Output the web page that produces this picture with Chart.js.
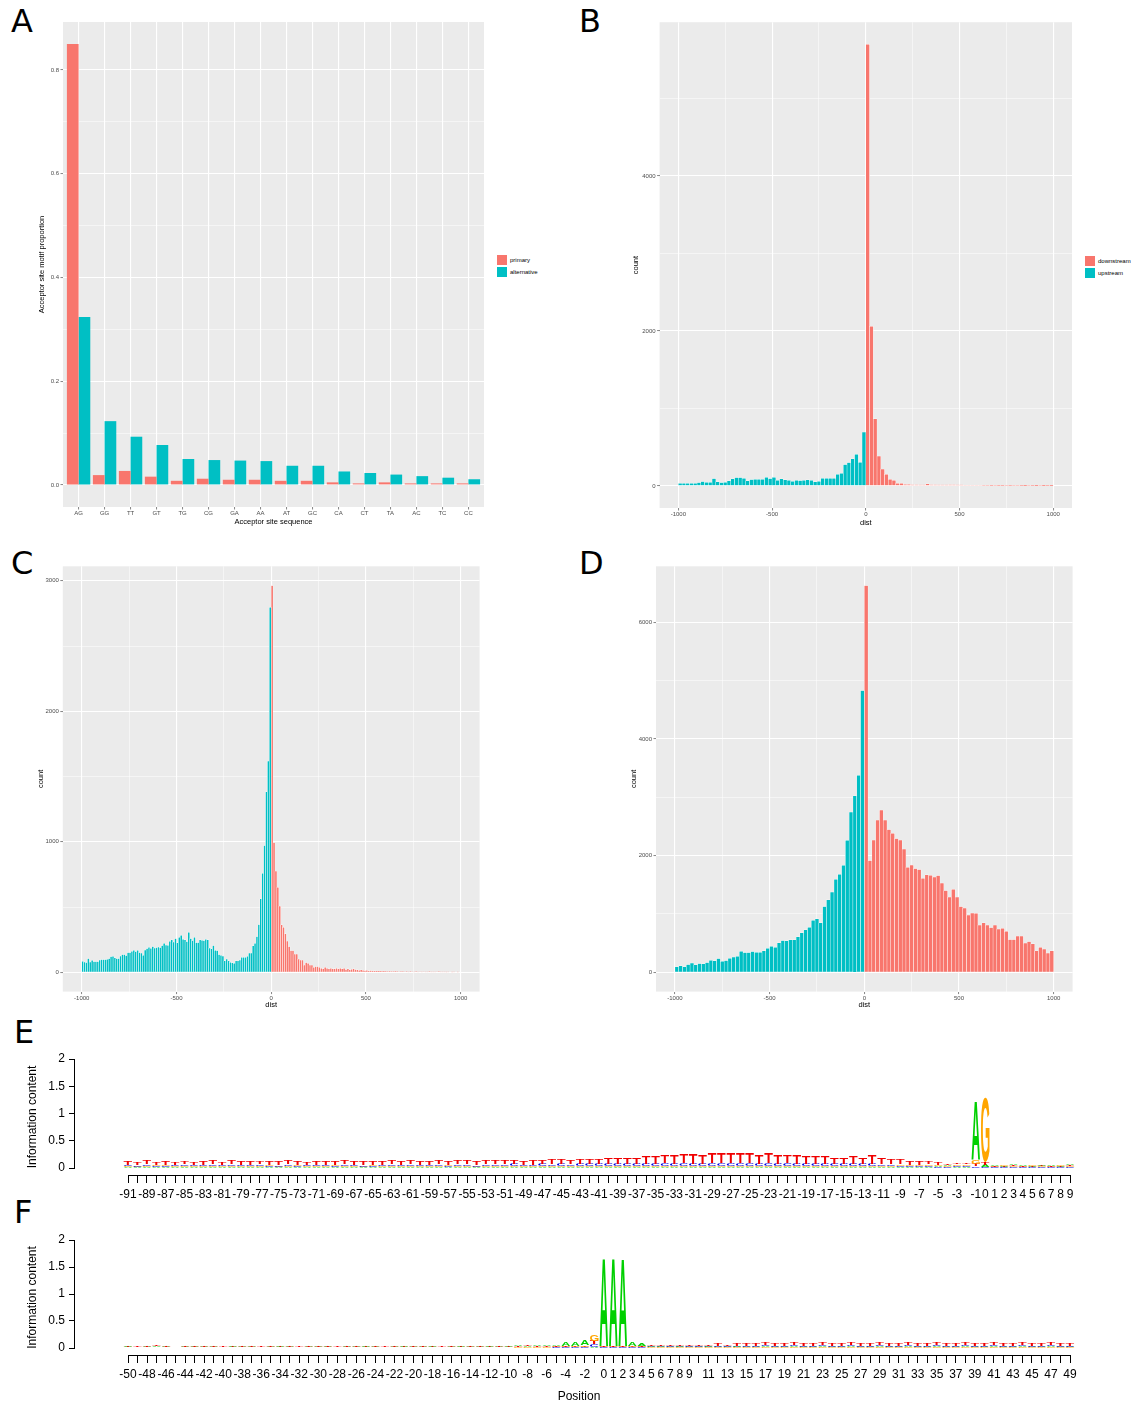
<!DOCTYPE html>
<html>
<head>
<meta charset="utf-8">
<script src="https://cdn.jsdelivr.net/npm/chart.js@4.4.1/dist/chart.umd.min.js"></script>
<style>
  html, body { margin: 0; padding: 0; background: #fff; }
  #page { position: relative; width: 1144px; height: 1406px; overflow: hidden; background: #fff; }
  .box { position: absolute; }
  .box canvas { display: block; }
  .tag { position: absolute; font-family: 'DejaVu Sans', sans-serif; font-size: 32px; line-height: 1; color: #000; }
  .legend { position: absolute; font-family: 'Liberation Sans', Arial, sans-serif; font-size: 6px; color: #000; }
  .legend .row { height: 12px; display: flex; align-items: center; }
  .legend .key { width: 10px; height: 10px; margin-right: 3px; }
</style>
</head>
<body>
<div id="page">
  <div class="tag" style="left:11px; top:5px;">A</div>
  <div class="tag" style="left:579px; top:5px;">B</div>
  <div class="tag" style="left:11px; top:547px;">C</div>
  <div class="tag" style="left:579px; top:547px;">D</div>
  <div class="tag" style="left:14px; top:1016px;">E</div>
  <div class="tag" style="left:14px; top:1196px;">F</div>

  <div class="legend" style="left:497px; top:254px;">
    <div class="row"><span class="key" style="background:#F8766D"></span>primary</div>
    <div class="row"><span class="key" style="background:#00BFC4"></span>alternative</div>
  </div>
  <div class="legend" style="left:1085px; top:255px;">
    <div class="row"><span class="key" style="background:#F8766D"></span>downstream</div>
    <div class="row"><span class="key" style="background:#00BFC4"></span>upstream</div>
  </div>
</div>
<script>
// ---- Panel A: acceptor site motif proportions ----
const motifs = ['AG','GG','TT','GT','TG','CG','GA','AA','AT','GC','CA','CT','TA','AC','TC','CC'];
const primaryProp = [0.850, 0.019, 0.027, 0.016, 0.008, 0.012, 0.010, 0.010, 0.008, 0.008, 0.005, 0.003, 0.005, 0.003, 0.003, 0.003];
const alternativeProp = [0.324, 0.123, 0.093, 0.077, 0.050, 0.048, 0.047, 0.046, 0.037, 0.037, 0.026, 0.023, 0.020, 0.017, 0.014, 0.011];
const aBreaks = [0, 0.1, 0.2, 0.3, 0.4, 0.5, 0.6, 0.7, 0.8];
const aLabels = [0, 0.2, 0.4, 0.6, 0.8];

// ---- shared dist axis for B, C, D ----
const distBreaks = [-1000, -750, -500, -250, 0, 250, 500, 750, 1000];
const distLabels = [-1000, -500, 0, 500, 1000];

// ---- Panel B: dist histogram, 20 bp bins from -1000 ----
const bBinWidth = 20;
const bUpstream = [34,34,34,34,34,43,56,47,47,95,52,43,47,65,91,108,108,99,65,82,
                   86,86,86,112,95,112,73,91,78,73,60,73,69,73,78,73,52,60,99,99,
                   99,99,151,164,276,302,349,409,306,694];
const bDownstream = [5700,2060,865,384,216,151,86,73,34,34,22,22,17,17,13,13,26,17,17,13,
                     13,13,17,17,13,13,9,9,9,9,9,6,5,4,5,3,4,6,3,5,
                     7,4,2,6,3,2,5,2,3,2];
const bBreaks = [0, 1000, 2000, 3000, 4000, 5000];
const bLabels = [0, 2000, 4000];

// ---- Panel C: dist histogram, 10 bp bins from -1000 ----
const cBinWidth = 10;
const cUpstream = [84,79,74,105,79,92,82,82,82,94,
                   97,97,97,100,105,120,123,110,105,105,
                   125,135,135,128,151,151,161,169,158,169,
                   151,148,130,171,181,192,184,197,186,189,
                   194,189,204,222,209,207,238,248,232,258,
                   225,268,284,253,248,235,306,258,243,268,
                   227,227,248,245,243,253,248,186,179,204,
                   169,166,135,130,125,87,102,87,77,72,
                   69,87,87,94,115,115,115,123,148,148,
                   202,222,273,365,562,759,971,1382,1619,2797];
const cDownstream = [2963,994,776,651,508,363,345,294,240,197,
                     166,166,140,140,102,94,94,56,74,69,
                     56,56,38,43,43,38,31,26,38,31,
                     26,31,26,26,31,26,31,26,31,20,
                     26,18,23,26,20,18,15,18,15,13,
                     15,12,13,10,12,10,9,10,8,9,
                     8,6,7,5,6,8,5,4,6,5,
                     4,6,3,5,4,3,5,2,4,3,
                     4,2,3,5,2,3,2,4,5,2,
                     3,2,1,2,0,1,2,0,1,0];
const cBreaks = [0, 500, 1000, 1500, 2000, 2500, 3000];
const cLabels = [0, 1000, 2000, 3000];

// ---- Panel D: dist histogram, 20 bp bins from -1000 ----
const dBinWidth = 20;
const dUpstream = [92,109,92,132,160,126,149,143,166,206,195,235,189,200,240,263,275,361,338,338,
                   355,344,344,367,412,447,430,504,544,538,556,556,607,676,727,773,893,916,848,1128,
                   1243,1375,1592,1678,1833,2262,2749,3024,3379,4830];
const dDownstream = [6630,1914,2269,2611,2783,2611,2446,2383,2291,2269,2114,1800,1840,1777,1760,1611,1669,1663,1634,1657,
                     1531,1400,1291,1423,1291,1126,1103,983,1017,1011,811,846,811,766,811,743,754,703,560,560,
                     623,623,503,526,486,366,429,400,331,366];
const dBreaks = [0, 1000, 2000, 3000, 4000, 5000, 6000];
const dLabels = [0, 2000, 4000, 6000];

// ---- Panel E: sequence logo, positions -91..9 ----
const ePositions = [];
for (let p = -91; p <= 9; p++) ePositions.push(p);
const eTickLabels = [-91,-89,-87,-85,-83,-81,-79,-77,-75,-73,-71,-69,-67,-65,-63,-61,-59,-57,-55,-53,
                     -51,-49,-47,-45,-43,-41,-39,-37,-35,-33,-31,-29,-27,-25,-23,-21,-19,-17,-15,-13,
                     -11,-9,-7,-5,-3,-1,0,1,2,3,4,5,6,7,8,9];
const eT = [.06,.05,.06,.05,.06,.05,.05,.05,.06,.06,
            .05,.06,.06,.06,.05,.06,.07,.06,.06,.05,
            .06,.06,.07,.06,.06,.07,.06,.06,.07,.07,
            .07,.06,.07,.08,.07,.07,.08,.08,.07,.08,
            .08,.07,.08,.09,.08,.09,.09,.08,.10,.09,
            .10,.11,.11,.12,.12,.13,.14,.15,.16,.17,
            .18,.17,.19,.20,.19,.20,.18,.17,.19,.16,
            .15,.16,.14,.13,.15,.12,.12,.14,.11,.17,
            .12,.09,.10,.07,.08,.05,.04,.03,.03,.03,
            .05,.05,
            .015,.01,.02,.015,.01,.015,.01,.015,.02];
const eC = [.025,.02,.03,.02,.025,.02,.03,.025,.02,.03,
            .025,.03,.02,.025,.03,.02,.025,.03,.02,.025,
            .03,.025,.02,.03,.025,.03,.02,.025,.03,.025,
            .03,.025,.03,.03,.025,.03,.03,.025,.03,.03,
            .03,.035,.03,.03,.035,.03,.035,.03,.035,.035,
            .04,.035,.04,.045,.04,.04,.045,.05,.045,.05,
            .05,.045,.05,.05,.055,.05,.05,.045,.05,.045,
            .045,.04,.045,.04,.04,.045,.04,.035,.04,.04,
            .03,.03,.025,.02,.02,.02,.015,.015,.02,.02,
            .03,.02,
            .01,.01,.015,.01,.01,.015,.01,.01,.015];
const eG = [.02,.015,.02,.02,.025,.015,.02,.02,.015,.02,
            .02,.025,.015,.02,.02,.02,.015,.025,.02,.02,
            .015,.02,.02,.025,.02,.015,.02,.02,.025,.02,
            .02,.02,.015,.02,.025,.02,.02,.015,.02,.02,
            .025,.02,.02,.015,.02,.025,.02,.02,.02,.015,
            .02,.025,.02,.02,.015,.02,.02,.025,.02,.02,
            .02,.015,.02,.025,.02,.02,.02,.015,.02,.02,
            .025,.02,.02,.02,.015,.02,.025,.02,.02,.02,
            .02,.02,.025,.02,.02,.025,.02,.02,.03,.03,
            .07,1.19,
            .015,.02,.015,.01,.02,.015,.01,.02,.015];
const eA = [.015,.012,.015,.015,.012,.015,.015,.012,.015,.015,
            .012,.015,.015,.012,.015,.015,.012,.015,.015,.012,
            .015,.015,.012,.015,.015,.012,.015,.015,.012,.015,
            .015,.012,.015,.015,.012,.015,.015,.012,.015,.015,
            .015,.015,.012,.015,.015,.015,.012,.015,.015,.015,
            .015,.012,.015,.015,.015,.012,.015,.015,.015,.015,
            .012,.015,.015,.015,.012,.015,.015,.015,.015,.012,
            .015,.015,.015,.012,.015,.015,.015,.012,.015,.015,
            .015,.015,.02,.015,.02,.02,.02,.025,.02,.02,
            1.08,.04,
            .02,.02,.025,.02,.02,.025,.02,.02,.025];

// ---- Panel F: sequence logo, positions -50..49 ----
const fPositions = [];
for (let p = -50; p <= 49; p++) fPositions.push(p);
const fTickLabels = [-50,-48,-46,-44,-42,-40,-38,-36,-34,-32,-30,-28,-26,-24,-22,-20,-18,-16,-14,-12,
                     -10,-8,-6,-4,-2,0,1,2,3,4,5,6,7,8,9,11,13,15,17,19,
                     21,23,25,27,29,31,33,35,37,39,41,43,45,47,49];
const fA = [.012,.008,.01,.012,.01,.008,.01,.012,.01,.01,
            .008,.012,.01,.01,.008,.01,.012,.01,.008,.01,
            .01,.012,.008,.01,.01,.012,.01,.008,.01,.012,
            .01,.01,.012,.008,.01,.012,.01,.01,.012,.01,
            .015,.02,.015,.02,.025,.03,.06,.065,.10,.02,
            1.64,1.63,1.60,.06,.04,.02,.018,.015,.018,.015,
            .015,.018,.015,.015,.018,.015,.015,.018,.015,.015,
            .018,.015,.015,.018,.015,.015,.018,.015,.015,.018,
            .015,.015,.018,.015,.015,.018,.015,.015,.018,.015,
            .015,.018,.015,.015,.018,.015,.015,.018,.015,.015];
const fC = [.006,.005,.006,.007,.005,.006,.006,.005,.007,.006,
            .005,.006,.006,.007,.005,.006,.006,.005,.007,.006,
            .006,.005,.006,.007,.006,.005,.006,.006,.007,.005,
            .006,.006,.005,.007,.006,.006,.005,.006,.007,.006,
            .007,.008,.007,.008,.009,.01,.01,.01,.012,.05,
            .01,.01,.01,.012,.012,.015,.015,.016,.015,.016,
            .017,.016,.017,.018,.017,.018,.018,.019,.018,.019,
            .02,.019,.02,.02,.019,.02,.02,.021,.02,.02,
            .021,.02,.02,.021,.02,.02,.021,.02,.02,.021,
            .02,.02,.021,.02,.02,.021,.02,.02,.021,.02];
const fG = [.008,.007,.008,.009,.008,.007,.008,.009,.008,.008,
            .007,.008,.009,.008,.007,.008,.008,.009,.008,.007,
            .008,.009,.008,.008,.007,.008,.009,.008,.008,.007,
            .008,.009,.008,.007,.008,.008,.009,.008,.007,.008,
            .009,.01,.01,.012,.012,.012,.012,.013,.02,.12,
            .01,.01,.01,.015,.012,.01,.01,.011,.01,.01,
            .011,.01,.01,.011,.01,.01,.011,.01,.01,.011,
            .01,.01,.011,.01,.01,.011,.01,.01,.011,.01,
            .01,.011,.01,.01,.011,.01,.01,.011,.01,.01,
            .011,.01,.01,.011,.01,.01,.011,.01,.01,.011];
const fT = [.01,.012,.01,.015,.01,.008,.01,.012,.01,.01,
            .012,.01,.015,.01,.01,.012,.01,.01,.015,.01,
            .01,.012,.01,.01,.012,.01,.01,.012,.01,.01,
            .012,.01,.01,.012,.01,.01,.012,.01,.01,.012,
            .01,.012,.015,.012,.015,.015,.015,.012,.015,.06,
            .01,.01,.01,.012,.02,.025,.025,.03,.028,.03,
            .032,.03,.035,.033,.035,.038,.04,.038,.042,.04,
            .045,.042,.045,.048,.045,.05,.048,.052,.05,.048,
            .05,.048,.05,.052,.05,.048,.05,.052,.05,.05,
            .048,.05,.052,.05,.05,.052,.05,.05,.052,.05];
const logoBreaks = [0, 0.5, 1, 1.5, 2];

// ---- styling ----
const RED = '#F8766D', CYAN = '#00BFC4', PANEL_BG = '#EBEBEB';
const SANS = "'Liberation Sans', Arial, sans-serif";
const LOGO_COLORS = { A: '#00D000', C: '#0000E0', G: '#FFA500', T: '#F00000' };

const page = document.getElementById('page');

function place(box) {
  const div = document.createElement('div');
  div.className = 'box';
  div.style.left = box.left + 'px';
  div.style.top = box.top + 'px';
  const c = document.createElement('canvas');
  c.width = box.width;
  c.height = box.height;
  c.style.width = box.width + 'px';
  c.style.height = box.height + 'px';
  div.appendChild(c);
  page.appendChild(div);
  return c;
}

// grey ggplot panel behind the grid
const panelBg = {
  id: 'panelBg',
  beforeDraw(chart) {
    const { ctx, chartArea: a } = chart;
    ctx.save();
    ctx.fillStyle = PANEL_BG;
    ctx.fillRect(a.left, a.top, a.right - a.left, a.bottom - a.top);
    ctx.restore();
  }
};

const inList = (list, v) => list.some(b => Math.abs(b - v) < 1e-9);

// ggplot-like axis: white major/minor grid, labels only on the major breaks
function ggScale(o) {
  const isMajor = c => !c.tick || inList(o.labels, c.tick.value);
  return {
    type: 'linear',
    offset: false,
    min: o.min,
    max: o.max,
    afterBuildTicks: s => { s.ticks = o.breaks.map(v => ({ value: v })); },
    ticks: {
      autoSkip: false,
      maxRotation: 0,
      minRotation: 0,
      padding: o.pad,
      color: '#4D4D4D',
      font: { family: SANS, size: 6 },
      callback: v => inList(o.labels, v) ? o.format(v) : ''
    },
    grid: {
      offset: false,
      drawTicks: true,
      tickLength: 2.5,
      tickWidth: 0.6,
      color: '#FFFFFF',
      lineWidth: c => isMajor(c) ? 1.1 : 0.5,
      tickColor: c => isMajor(c) ? '#333333' : 'rgba(0,0,0,0)'
    },
    border: { display: false },
    title: {
      display: true,
      text: o.title,
      color: '#000',
      padding: 0,
      font: { family: SANS, size: 7.5, lineHeight: 1 }
    },
    afterFit: o.fit
  };
}

// set layout so the plotting panel lands on the given rectangle
function layoutFor(box, area, titleX, titleY) {
  const yLeft = titleX - 3.75;
  const xBottom = titleY + 3.75;
  return {
    padding: {
      left: yLeft - box.left,
      top: area.top - box.top,
      right: box.left + box.width - area.right,
      bottom: box.top + box.height - xBottom
    },
    yWidth: area.left - yLeft,
    xHeight: xBottom - area.bottom
  };
}

function histChart(box, area, titleX, titleY, binWidth, up, down, yMin, yMax, yBreaks, yLabels) {
  const L = layoutFor(box, area, titleX, titleY);
  const upData = up.map((v, i) => ({ x: -1000 + binWidth / 2 + i * binWidth, y: v }));
  const downData = down.map((v, i) => ({ x: binWidth / 2 + i * binWidth, y: v }));
  const common = { borderColor: '#FFFFFF', borderWidth: 0.5, borderSkipped: 'start',
                   barPercentage: 1, categoryPercentage: 1, grouped: false };
  new Chart(place(box), {
    type: 'bar',
    data: {
      datasets: [
        Object.assign({ label: 'upstream', data: upData, backgroundColor: CYAN }, common),
        Object.assign({ label: 'downstream', data: downData, backgroundColor: RED }, common)
      ]
    },
    options: {
      responsive: false,
      animation: false,
      layout: { padding: L.padding },
      plugins: { legend: { display: false }, tooltip: { enabled: false } },
      scales: {
        x: ggScale({ min: -1100, max: 1100, breaks: distBreaks, labels: distLabels, title: 'dist', pad: 0.5,
                     format: v => String(v), fit: s => { s.height = L.xHeight; } }),
        y: ggScale({ min: yMin, max: yMax, breaks: yBreaks, labels: yLabels, title: 'count', pad: 1.5,
                     format: v => String(v), fit: s => { s.width = L.yWidth; } })
      }
    },
    plugins: [panelBg]
  });
}

// ---- A ----
(function () {
  const box = { left: 0, top: 0, width: 490, height: 540 };
  const area = { left: 63, top: 22, right: 484, bottom: 507 };
  const L = layoutFor(box, area, 42, 521.5);
  const toXY = arr => arr.map((v, i) => ({ x: i + 1, y: v }));
  const slots = motifs.map((m, i) => i + 1);
  new Chart(place(box), {
    type: 'bar',
    data: {
      datasets: [
        { label: 'primary', data: toXY(primaryProp), backgroundColor: RED,
          categoryPercentage: 0.9, barPercentage: 1 },
        { label: 'alternative', data: toXY(alternativeProp), backgroundColor: CYAN,
          categoryPercentage: 0.9, barPercentage: 1 }
      ]
    },
    options: {
      responsive: false,
      animation: false,
      layout: { padding: L.padding },
      plugins: { legend: { display: false }, tooltip: { enabled: false } },
      scales: {
        x: ggScale({ min: 0.4, max: 16.6, breaks: slots, labels: slots, title: 'Acceptor site sequence', pad: 0.5,
                     format: v => motifs[Math.round(v) - 1] || '', fit: s => { s.height = L.xHeight; } }),
        y: ggScale({ min: -0.0425, max: 0.8925, breaks: aBreaks, labels: aLabels, pad: 1.5,
                     title: 'Acceptor site motif proportion',
                     format: v => v.toFixed(1), fit: s => { s.width = L.yWidth; } })
      }
    },
    plugins: [panelBg]
  });
})();

// ---- B, C, D ----
histChart({ left: 570, top: 0, width: 574, height: 540 },
          { left: 659.6, top: 22.2, right: 1072, bottom: 508 }, 636, 523.3,
          bBinWidth, bUpstream, bDownstream, -285, 5985, bBreaks, bLabels);
histChart({ left: 0, top: 540, width: 570, height: 470 },
          { left: 62.8, top: 566.3, right: 479.6, bottom: 991.6 }, 41, 1004.8,
          cBinWidth, cUpstream, cDownstream, -148, 3111, cBreaks, cLabels);
histChart({ left: 570, top: 540, width: 574, height: 470 },
          { left: 656, top: 566.3, right: 1072.6, bottom: 991.6 }, 634, 1004.8,
          dBinWidth, dUpstream, dDownstream, -331, 6961, dBreaks, dLabels);

// ---- sequence logos ----
const glyphCache = {};
function drawGlyph(ctx, ch, x, y, w, h) {
  if (!glyphCache[ch]) {
    const m = ctx.measureText(ch);
    glyphCache[ch] = { l: m.actualBoundingBoxLeft, a: m.actualBoundingBoxAscent,
                       w: m.actualBoundingBoxLeft + m.actualBoundingBoxRight,
                       h: m.actualBoundingBoxAscent + m.actualBoundingBoxDescent };
  }
  const g = glyphCache[ch];
  ctx.save();
  ctx.translate(x, y);
  ctx.scale(w / g.w, h / g.h);
  ctx.fillStyle = LOGO_COLORS[ch];
  ctx.fillText(ch, g.l, g.a);
  ctx.restore();
}

// letters stacked per position, tallest on top
const logoLetters = {
  id: 'logoLetters',
  afterDatasetsDraw(chart) {
    const { ctx } = chart;
    const y = chart.scales.y;
    const sets = chart.data.datasets;
    const bars = chart.getDatasetMeta(0).data;
    ctx.save();
    ctx.font = 'bold 100px ' + SANS;
    ctx.textAlign = 'left';
    ctx.textBaseline = 'alphabetic';
    bars.forEach((bar, i) => {
      const stack = sets.map(d => ({ ch: d.label, h: d.data[i].y })).sort((a, b) => a.h - b.h);
      let cum = 0;
      stack.forEach(s => {
        const yb = y.getPixelForValue(cum);
        cum += s.h;
        const yt = y.getPixelForValue(cum);
        if (yb - yt > 0.05) drawGlyph(ctx, s.ch, bar.x - bar.width / 2, yt, bar.width, yb - yt);
      });
    });
    ctx.restore();
  }
};

// R-style axis lines: x from first to last tick, y from 0 to 2
const logoAxes = {
  id: 'logoAxes',
  afterDraw(chart) {
    const { ctx, chartArea: a } = chart;
    const { x, y } = chart.scales;
    const n = chart.data.datasets[0].data.length;
    ctx.save();
    ctx.strokeStyle = '#000';
    ctx.lineWidth = 1;
    ctx.beginPath();
    ctx.moveTo(x.getPixelForValue(0), Math.round(a.bottom) + 0.5);
    ctx.lineTo(x.getPixelForValue(n - 1), Math.round(a.bottom) + 0.5);
    ctx.moveTo(Math.round(a.left) - 0.5, y.getPixelForValue(0));
    ctx.lineTo(Math.round(a.left) - 0.5, y.getPixelForValue(2));
    ctx.stroke();
    ctx.restore();
  }
};

function logoChart(box, area, firstX, lastX, y0, y2, positions, shown, A, C, G, T, xTitle) {
  const n = positions.length;
  const pitch = (lastX - firstX) / (n - 1);
  const perUnit = (y0 - y2) / 2;
  const xHeight = xTitle ? box.top + box.height - 3 - area.bottom : box.top + box.height - 8 - area.bottom;
  const toXY = arr => arr.map((v, i) => ({ x: i, y: v }));
  const ds = (ch, arr) => ({ label: ch, data: toXY(arr), backgroundColor: 'rgba(0,0,0,0)',
                             barPercentage: 0.9, categoryPercentage: 1 });
  const tickFont = { family: SANS, size: 12 };
  new Chart(place(box), {
    type: 'bar',
    data: { datasets: [ds('A', A), ds('C', C), ds('G', G), ds('T', T)] },
    options: {
      responsive: false,
      animation: false,
      layout: { padding: { left: 27 - box.left, top: area.top - box.top,
                           right: box.left + box.width - area.right,
                           bottom: box.top + box.height - area.bottom - xHeight } },
      plugins: { legend: { display: false }, tooltip: { enabled: false } },
      scales: {
        x: {
          type: 'linear',
          offset: false,
          stacked: true,
          min: -(firstX - area.left) / pitch,
          max: (n - 1) + (area.right - lastX) / pitch,
          afterBuildTicks: s => { s.ticks = positions.map((p, i) => ({ value: i })); },
          ticks: {
            autoSkip: false, maxRotation: 0, minRotation: 0, padding: 4,
            color: '#000', font: tickFont,
            callback: (v, i) => shown.includes(positions[i]) ? String(positions[i]) : ''
          },
          grid: { offset: false, drawOnChartArea: false, drawTicks: true, tickLength: 8, tickColor: '#000', tickWidth: 1 },
          border: { display: false },
          title: { display: !!xTitle, text: xTitle || '', color: '#000', padding: 0,
                   font: { family: SANS, size: 12, lineHeight: 1 } },
          afterFit: s => { s.height = xHeight; }
        },
        y: {
          type: 'linear',
          stacked: true,
          min: -(area.bottom - y0) / perUnit,
          max: 2,
          afterBuildTicks: s => { s.ticks = logoBreaks.map(v => ({ value: v })); },
          ticks: {
            padding: 4,
            color: '#000', font: tickFont,
            callback: v => String(v)
          },
          grid: { drawOnChartArea: false, drawTicks: true, tickLength: 6, tickColor: '#000', tickWidth: 1 },
          border: { display: false },
          title: { display: true, text: 'Information content', color: '#000', padding: 0,
                   font: { family: SANS, size: 12, lineHeight: 1 } },
          afterFit: s => { s.width = area.left - 27; }
        }
      }
    },
    plugins: [logoLetters, logoAxes]
  });
}

logoChart({ left: 0, top: 1045, width: 1144, height: 165 },
          { left: 75, top: 1059, right: 1083, bottom: 1175 },
          128, 1070, 1168, 1059, ePositions, eTickLabels, eA, eC, eG, eT, null);
logoChart({ left: 0, top: 1225, width: 1144, height: 181 },
          { left: 75, top: 1240, right: 1083, bottom: 1355 },
          128, 1070, 1348, 1240, fPositions, fTickLabels, fA, fC, fG, fT, 'Position');
</script>
</body>
</html>
